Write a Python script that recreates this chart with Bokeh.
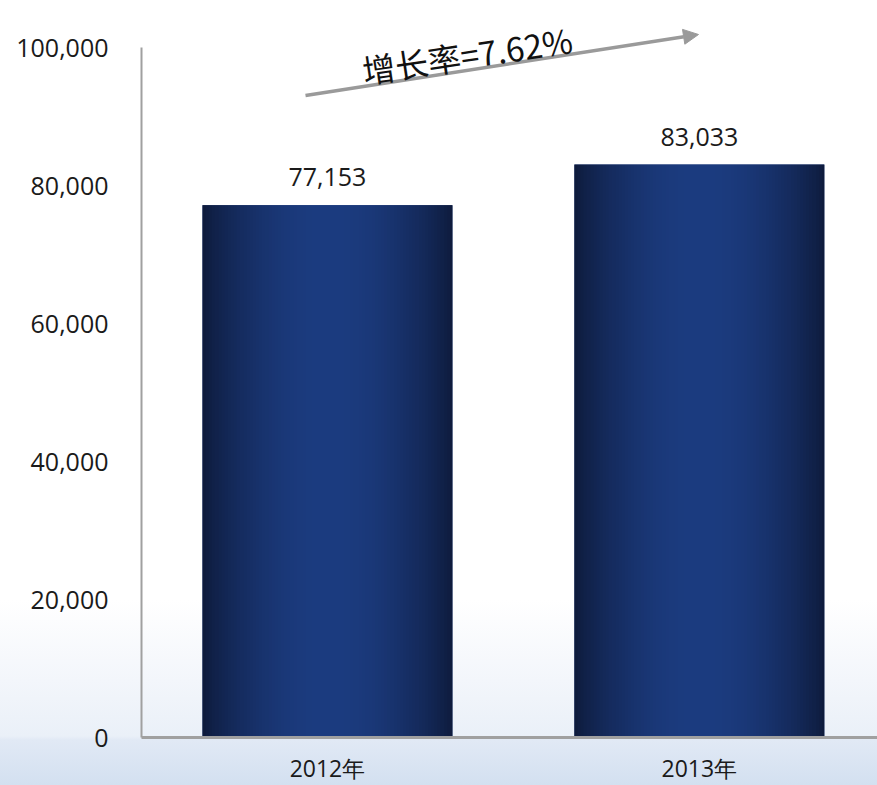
import numpy as np
from bokeh.plotting import figure
from bokeh.models import (ColumnDataSource, Range1d, FixedTicker, NumeralTickFormatter,
                          Label, Arrow, NormalHead, LabelSet)
from bokeh.core.properties import value
from bokeh.embed import file_html
from bokeh.resources import INLINE

# ---- data ----
years = ["2012年", "2013年"]
values = [77153, 83033]
value_labels = ["77,153", "83,033"]
y_ticks = [0, 20000, 40000, 60000, 80000, 100000]
growth_text = "增长率=7.62%"

W, H = 877, 785
LEFT, BOTTOM = 141, 48
frame_w = W - LEFT
frame_h = H - BOTTOM
y_top = 100000 * frame_h / 690.0
x_lo, x_hi = -0.5, 1.479

xs = list(range(len(years)))
bar_w = 0.672

p = figure(frame_width=frame_w, frame_height=frame_h, output_backend="svg", toolbar_location=None,
           x_range=Range1d(x_lo, x_hi), y_range=Range1d(0, y_top),
           min_border_left=LEFT, min_border_right=0, min_border_top=0,
           min_border_bottom=BOTTOM)
p.outline_line_color = None
p.grid.visible = False
p.background_fill_color = None
p.border_fill_color = None
p.styles = {"background-image": "linear-gradient(to bottom, #ffffff 0px, #ffffff 600px, "
                                "#f3f6fb 680px, #eaf0f8 736px, #e1e9f5 740px, #d3e0f0 785px)"}

src = ColumnDataSource(dict(x=xs, top=values, year=years, lab=value_labels))
p.vbar(x="x", top="top", width=bar_w, source=src, fill_color="#1a3675", line_color=None)

# horizontal gradient on the bars
ncol = 80
dark = np.array([14, 27, 60])
bright = np.array([28, 60, 128])
t = np.linspace(0, 1, ncol)
prof = np.clip(np.sin(np.pi * t) ** 0.8, 0, 1)
row = np.zeros((1, ncol), dtype=np.uint32)
view = row.view(dtype=np.uint8).reshape((1, ncol, 4))
for j in range(ncol):
    c = dark * (1 - prof[j]) + bright * prof[j]
    view[0, j, 0:3] = c.astype(np.uint8)
    view[0, j, 3] = 255
imgs = [row for _ in xs]
p.image_rgba(image=imgs, x=[x - bar_w / 2 for x in xs], y=[0] * len(xs),
             dw=[bar_w] * len(xs), dh=values)

labels = LabelSet(x="x", y="top", text="lab", source=src, text_align="center",
                  text_baseline="bottom", y_offset=19, text_font_size=value("25px"),
                  text_font=value("Open Sans"), text_color="#1a1a1a")
p.add_layout(labels)

# axes
p.yaxis.ticker = FixedTicker(ticks=y_ticks)
p.yaxis.formatter = NumeralTickFormatter(format="0,0")
p.yaxis.bounds = (0, 100000)
p.yaxis.major_tick_line_color = None
p.yaxis.minor_tick_line_color = None
p.yaxis.axis_line_color = "#a0a0a0"
p.yaxis.axis_line_width = 2
p.yaxis.major_label_text_font = "Open Sans"
p.yaxis.major_label_text_font_size = "25px"
p.yaxis.major_label_text_color = "#1a1a1a"
p.yaxis.major_label_standoff = 27

p.xaxis.ticker = FixedTicker(ticks=xs)
p.xaxis.major_label_overrides = {i: y for i, y in zip(xs, years)}
p.xaxis.major_tick_line_color = None
p.xaxis.minor_tick_line_color = None
p.xaxis.axis_line_color = "#a0a0a0"
p.xaxis.axis_line_width = 3
p.xaxis.major_label_text_font = "Open Sans"
p.xaxis.major_label_text_font_size = "23px"
p.xaxis.major_label_text_color = "#1a1a1a"
p.xaxis.major_label_standoff = 8

# growth annotation
def px_to_x(px):
    return (px - LEFT) / frame_w * (x_hi - x_lo) + x_lo

def py_to_y(py):
    return (frame_h - py) / frame_h * y_top

arrow = Arrow(x_start=px_to_x(305), y_start=py_to_y(95), x_end=px_to_x(698), y_end=py_to_y(34),
              line_color="#9a9a9a", line_width=3.5,
              end=NormalHead(size=15, fill_color="#9a9a9a", line_color="#9a9a9a"))
p.add_layout(arrow)
p.add_layout(Label(x=px_to_x(362), y=py_to_y(70), text=growth_text, angle=0.15,
                   text_font="Noto Sans CJK SC", text_font_size="33px",
                   text_color="#111111", text_baseline="alphabetic"))

open("out.html", "w").write(file_html(p, INLINE))
